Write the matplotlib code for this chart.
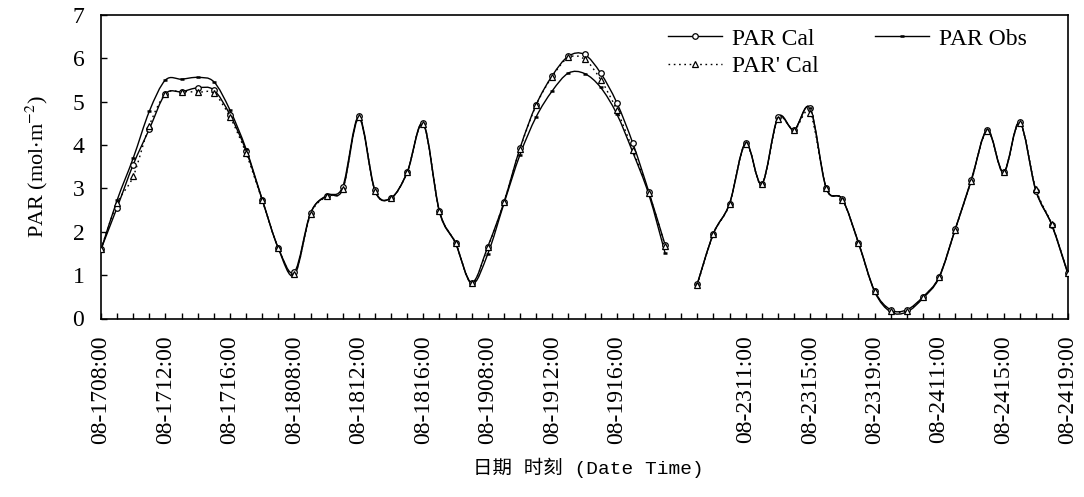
import numpy as np
import matplotlib
matplotlib.use('Agg')
import matplotlib.pyplot as plt
from matplotlib.path import Path
from matplotlib.patches import PathPatch
from matplotlib.lines import Line2D

plt.rcParams['font.family'] = ['Liberation Serif', 'DejaVu Serif']
plt.rcParams['mathtext.fontset'] = 'stix'

#------------------------------------------------------------------------------
#   Data (hourly, 61 categories, index 36 is an empty category)
#------------------------------------------------------------------------------
n_cat = 61

par_cal = [1.60, 2.56, 3.55, 4.37, 5.18, 5.23, 5.32, 5.27, 4.70, 3.87,
           2.74, 1.63, 1.07, 2.43, 2.83, 3.04, 4.66, 2.96, 2.78, 3.38,
           4.50, 2.48, 1.74, 0.83, 1.66, 2.68, 3.93, 4.93, 5.60, 6.05,
           6.09, 5.66, 4.98, 4.04, 2.91, 1.70, None, 0.80, 1.96, 2.65,
           4.05, 3.10, 4.64, 4.35, 4.85, 3.01, 2.75, 1.75, 0.64, 0.20,
           0.20, 0.50, 0.96, 2.06, 3.20, 4.35, 3.38, 4.53, 2.95, 2.16,
           1.04]

par_obs = [1.58, 2.73, 3.70, 4.78, 5.50, 5.52, 5.56, 5.46, 4.81, 3.91,
           2.75, 1.62, 1.00, 2.42, 2.84, 2.98, 4.62, 2.94, 2.78, 3.37,
           4.48, 2.46, 1.73, 0.80, 1.49, 2.65, 3.78, 4.65, 5.25, 5.66,
           5.65, 5.33, 4.72, 3.83, 2.85, 1.51, None, 0.80, 1.96, 2.65,
           4.04, 3.10, 4.62, 4.35, 4.85, 3.00, 2.75, 1.74, 0.62, 0.15,
           0.15, 0.47, 0.94, 2.05, 3.18, 4.34, 3.36, 4.52, 2.97, 2.15,
           1.02]

par2_cal = [1.60, 2.66, 3.28, 4.45, 5.18, 5.23, 5.22, 5.19, 4.65, 3.81,
            2.73, 1.63, 1.03, 2.40, 2.82, 2.99, 4.64, 2.95, 2.78, 3.37,
            4.49, 2.47, 1.74, 0.82, 1.64, 2.68, 3.91, 4.92, 5.58, 6.02,
            5.98, 5.51, 4.81, 3.89, 2.89, 1.68, None, 0.78, 1.95, 2.64,
            4.03, 3.10, 4.60, 4.35, 4.74, 3.01, 2.74, 1.74, 0.63, 0.18,
            0.18, 0.49, 0.95, 2.05, 3.18, 4.33, 3.37, 4.51, 2.99, 2.17,
            1.04]

# labels shown every 4th category
tick_labels = ['08-1708:00', '08-1712:00', '08-1716:00', '08-1808:00',
               '08-1812:00', '08-1816:00', '08-1908:00', '08-1912:00',
               '08-1916:00', '', '08-2311:00', '08-2315:00', '08-2319:00',
               '08-2411:00', '08-2415:00', '08-2419:00']


#------------------------------------------------------------------------------
#   Excel-like smoothed line (bezier through the points)
#------------------------------------------------------------------------------
def smooth_segments(vals):
    segs = []
    cur = []
    for i, v in enumerate(vals):
        if v is None:
            if cur:
                segs.append(cur)
            cur = []
        else:
            cur.append((i, v))
    if cur:
        segs.append(cur)

    verts = []
    codes = []
    for seg in segs:
        p = np.array(seg, dtype=float)
        m = len(p)
        verts.append(p[0])
        codes.append(Path.MOVETO)
        for k in range(m - 1):
            p0 = p[k - 1] if k > 0 else p[k]
            p1 = p[k]
            p2 = p[k + 1]
            p3 = p[k + 2] if k + 2 < m else p[k + 1]
            c1 = p1 + (p2 - p0) / 6.0
            c2 = p2 - (p3 - p1) / 6.0
            verts += [c1, c2, p2]
            codes += [Path.CURVE4] * 3
    return Path(verts, codes)


fig = plt.figure(figsize=(10.84, 4.97), dpi=100)
ax = fig.add_axes([101 / 1084, 1 - 318.5 / 497, 967 / 1084, 303.5 / 497])

series = [
    (par_cal, 'PAR Cal', '-', dict(marker='o', markersize=4, markerfacecolor='white',
                                   markeredgecolor='black', markeredgewidth=0.9)),
    (par_obs, 'PAR Obs', '-', dict(marker='_', markersize=3, markerfacecolor='black',
                                   markeredgecolor='black', markeredgewidth=1.8)),
    (par2_cal, "PAR' Cal", (0, (1.2, 2.6)), dict(marker='^', markersize=5, markerfacecolor='white',
                                                 markeredgecolor='black', markeredgewidth=0.9)),
]

handles = {}
for vals, name, ls, mk in series:
    path = smooth_segments(vals)
    ax.add_patch(PathPatch(path, fill=False, edgecolor='black', lw=1.0, linestyle=ls))
    xs = [i for i, v in enumerate(vals) if v is not None]
    ys = [v for v in vals if v is not None]
    ax.plot(xs, ys, linestyle='none', zorder=3, **mk)
    handles[name] = Line2D([], [], color='black', lw=1.0, linestyle=ls, **mk)

ax.set_xlim(0, n_cat - 1)
ax.set_ylim(0, 7)

ax.set_xticks(range(n_cat))
full_labels = [''] * n_cat
for j, lab in enumerate(tick_labels):
    full_labels[j * 4] = lab
ax.set_xticklabels(full_labels, rotation=90, fontsize=17)
ax.set_yticks(range(8))
ax.set_yticklabels([str(v) for v in range(8)], fontsize=17)
ax.tick_params(axis='x', direction='in', length=4, width=1.0, pad=12)
ax.tick_params(axis='y', direction='in', length=4, width=1.0, pad=12)
for sp in ax.spines.values():
    sp.set_linewidth(1.2)

ax.set_ylabel('PAR (mol$\\cdot$m$^{-2}$)', fontsize=16, labelpad=16)

fig.text(588 / 1084, 1 - 468 / 497, '日期 时刻 (Date Time)', fontsize=14,
         family=['Liberation Mono', 'Noto Sans CJK SC'], ha='center', va='center')

leg_order = ['PAR Cal', "PAR' Cal", 'PAR Obs']
ax.legend([handles[k] for k in leg_order], leg_order, ncol=2, frameon=False,
          fontsize=17, loc='upper left', bbox_to_anchor=(668 / 1084, 1 - 28 / 497),
          bbox_transform=fig.transFigure, borderpad=0, borderaxespad=0,
          handlelength=2.3, handletextpad=0.4, columnspacing=2.4, labelspacing=0.25)

fig.savefig('out.png', dpi=100)
